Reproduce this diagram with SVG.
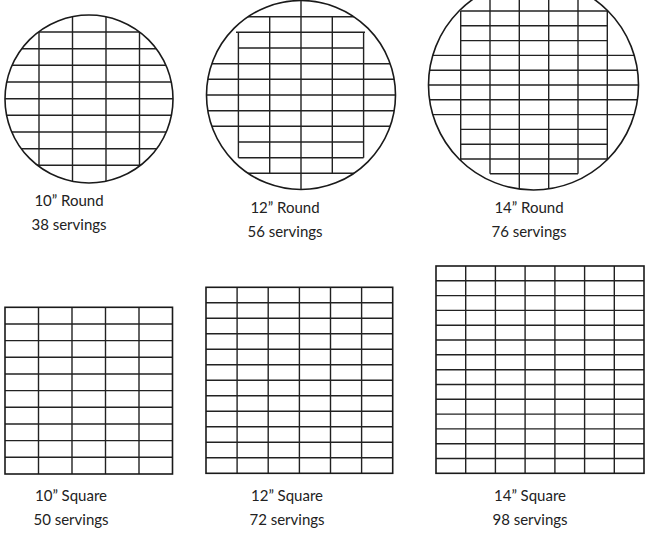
<svg xmlns="http://www.w3.org/2000/svg" width="653" height="540" viewBox="0 0 653 540">
<style>
  .edge{fill:none;stroke:#1a1a1a;stroke-width:1.6}
  .g line{stroke:#222;stroke-width:1.4}
  .lbl{font-family:Lato,"Liberation Sans",sans-serif;font-size:15px;fill:#222;text-anchor:middle}
</style>
<defs>
  <clipPath id="c1"><circle cx="89" cy="99" r="84"/></clipPath>
  <clipPath id="c2"><circle cx="301" cy="95" r="94.5"/></clipPath>
  <clipPath id="c3"><circle cx="533.5" cy="85" r="105"/></clipPath>
</defs>
<rect width="653" height="540" fill="#fff"/>

<g id="round10">
  <g class="g" clip-path="url(#c1)">
    <line x1="39" y1="0" x2="39" y2="200"/>
    <line x1="72.5" y1="0" x2="72.5" y2="200"/>
    <line x1="106" y1="0" x2="106" y2="200"/>
    <line x1="139.5" y1="0" x2="139.5" y2="200"/>
    <line x1="0" y1="32" x2="180" y2="32"/>
    <line x1="0" y1="48.7" x2="180" y2="48.7"/>
    <line x1="0" y1="65.3" x2="180" y2="65.3"/>
    <line x1="0" y1="82" x2="180" y2="82"/>
    <line x1="0" y1="98.7" x2="180" y2="98.7"/>
    <line x1="0" y1="115.3" x2="180" y2="115.3"/>
    <line x1="0" y1="132" x2="180" y2="132"/>
    <line x1="0" y1="148.7" x2="180" y2="148.7"/>
    <line x1="0" y1="165.3" x2="180" y2="165.3"/>
  </g>
  <circle class="edge" cx="89" cy="99" r="84"/>
  <text class="lbl" x="69" y="206">10” Round</text>
  <text class="lbl" x="69" y="230">38 servings</text>
</g>

<g id="round12">
  <g class="g" clip-path="url(#c2)">
    <line x1="238.4" y1="32.3" x2="238.4" y2="157.7"/>
    <line x1="269.7" y1="16.7" x2="269.7" y2="173.3"/>
    <line x1="301" y1="0" x2="301" y2="200"/>
    <line x1="332.3" y1="16.7" x2="332.3" y2="173.3"/>
    <line x1="363.6" y1="32.3" x2="363.6" y2="157.7"/>
    <line x1="200" y1="16.7" x2="400" y2="16.7"/>
    <line x1="236" y1="32.3" x2="365" y2="32.3"/>
    <line x1="238.4" y1="48" x2="363.6" y2="48"/>
    <line x1="200" y1="63.7" x2="400" y2="63.7"/>
    <line x1="200" y1="79.3" x2="400" y2="79.3"/>
    <line x1="200" y1="95" x2="400" y2="95"/>
    <line x1="200" y1="110.7" x2="400" y2="110.7"/>
    <line x1="200" y1="126.3" x2="400" y2="126.3"/>
    <line x1="238.4" y1="142" x2="363.6" y2="142"/>
    <line x1="238.4" y1="157.7" x2="363.6" y2="157.7"/>
    <line x1="200" y1="173.3" x2="400" y2="173.3"/>
  </g>
  <circle class="edge" cx="301" cy="95" r="94.5"/>
  <text class="lbl" x="285" y="213">12” Round</text>
  <text class="lbl" x="285" y="237">56 servings</text>
</g>

<g id="round14">
  <g class="g" clip-path="url(#c3)">
    <line x1="460.7" y1="11" x2="460.7" y2="200"/>
    <line x1="490" y1="-30" x2="490" y2="173.8"/>
    <line x1="519.3" y1="-30" x2="519.3" y2="200"/>
    <line x1="548.7" y1="-30" x2="548.7" y2="200"/>
    <line x1="578" y1="-30" x2="578" y2="173.8"/>
    <line x1="607.3" y1="11" x2="607.3" y2="200"/>
    <line x1="460.7" y1="11" x2="607.3" y2="11"/>
    <line x1="460.7" y1="25.8" x2="607.3" y2="25.8"/>
    <line x1="460.7" y1="40.6" x2="607.3" y2="40.6"/>
    <line x1="420" y1="55.4" x2="650" y2="55.4"/>
    <line x1="420" y1="70.2" x2="650" y2="70.2"/>
    <line x1="420" y1="85" x2="650" y2="85"/>
    <line x1="420" y1="99.8" x2="650" y2="99.8"/>
    <line x1="420" y1="114.6" x2="650" y2="114.6"/>
    <line x1="460.7" y1="129.4" x2="607.3" y2="129.4"/>
    <line x1="460.7" y1="144.2" x2="607.3" y2="144.2"/>
    <line x1="460.7" y1="159" x2="607.3" y2="159"/>
    <line x1="490" y1="173.8" x2="578" y2="173.8"/>
  </g>
  <circle class="edge" cx="533.5" cy="85" r="105"/>
  <text class="lbl" x="529" y="213">14” Round</text>
  <text class="lbl" x="529" y="237">76 servings</text>
</g>

<g id="square10">
  <g class="g">
    <line x1="38.5" y1="307.3" x2="38.5" y2="474"/>
    <line x1="72" y1="307.3" x2="72" y2="474"/>
    <line x1="105.5" y1="307.3" x2="105.5" y2="474"/>
    <line x1="139" y1="307.3" x2="139" y2="474"/>
    <line x1="5" y1="324" x2="172.5" y2="324"/>
    <line x1="5" y1="340.6" x2="172.5" y2="340.6"/>
    <line x1="5" y1="357.3" x2="172.5" y2="357.3"/>
    <line x1="5" y1="374" x2="172.5" y2="374"/>
    <line x1="5" y1="390.6" x2="172.5" y2="390.6"/>
    <line x1="5" y1="407.3" x2="172.5" y2="407.3"/>
    <line x1="5" y1="424" x2="172.5" y2="424"/>
    <line x1="5" y1="440.6" x2="172.5" y2="440.6"/>
    <line x1="5" y1="457.3" x2="172.5" y2="457.3"/>
  </g>
  <rect class="edge" x="5" y="307.3" width="167.5" height="166.7"/>
  <text class="lbl" x="71" y="501">10” Square</text>
  <text class="lbl" x="71" y="525">50 servings</text>
</g>

<g id="square12">
  <g class="g">
    <line x1="237.1" y1="287.3" x2="237.1" y2="473.3"/>
    <line x1="268.2" y1="287.3" x2="268.2" y2="473.3"/>
    <line x1="299.4" y1="287.3" x2="299.4" y2="473.3"/>
    <line x1="330.5" y1="287.3" x2="330.5" y2="473.3"/>
    <line x1="361.6" y1="287.3" x2="361.6" y2="473.3"/>
    <line x1="206" y1="302.8" x2="392.7" y2="302.8"/>
    <line x1="206" y1="318.3" x2="392.7" y2="318.3"/>
    <line x1="206" y1="333.8" x2="392.7" y2="333.8"/>
    <line x1="206" y1="349.3" x2="392.7" y2="349.3"/>
    <line x1="206" y1="364.8" x2="392.7" y2="364.8"/>
    <line x1="206" y1="380.3" x2="392.7" y2="380.3"/>
    <line x1="206" y1="395.8" x2="392.7" y2="395.8"/>
    <line x1="206" y1="411.3" x2="392.7" y2="411.3"/>
    <line x1="206" y1="426.8" x2="392.7" y2="426.8"/>
    <line x1="206" y1="442.3" x2="392.7" y2="442.3"/>
    <line x1="206" y1="457.8" x2="392.7" y2="457.8"/>
  </g>
  <rect class="edge" x="206" y="287.3" width="186.7" height="186"/>
  <text class="lbl" x="287" y="501">12” Square</text>
  <text class="lbl" x="287" y="525">72 servings</text>
</g>

<g id="square14">
  <g class="g">
    <line x1="465.7" y1="266" x2="465.7" y2="473.3"/>
    <line x1="495.4" y1="266" x2="495.4" y2="473.3"/>
    <line x1="525.1" y1="266" x2="525.1" y2="473.3"/>
    <line x1="554.9" y1="266" x2="554.9" y2="473.3"/>
    <line x1="584.6" y1="266" x2="584.6" y2="473.3"/>
    <line x1="614.3" y1="266" x2="614.3" y2="473.3"/>
    <line x1="436" y1="280.8" x2="644" y2="280.8"/>
    <line x1="436" y1="295.6" x2="644" y2="295.6"/>
    <line x1="436" y1="310.4" x2="644" y2="310.4"/>
    <line x1="436" y1="325.2" x2="644" y2="325.2"/>
    <line x1="436" y1="340" x2="644" y2="340"/>
    <line x1="436" y1="354.8" x2="644" y2="354.8"/>
    <line x1="436" y1="369.7" x2="644" y2="369.7"/>
    <line x1="436" y1="384.5" x2="644" y2="384.5"/>
    <line x1="436" y1="399.3" x2="644" y2="399.3"/>
    <line x1="436" y1="414.1" x2="644" y2="414.1"/>
    <line x1="436" y1="428.9" x2="644" y2="428.9"/>
    <line x1="436" y1="443.7" x2="644" y2="443.7"/>
    <line x1="436" y1="458.5" x2="644" y2="458.5"/>
  </g>
  <rect class="edge" x="436" y="266" width="208" height="207.3"/>
  <text class="lbl" x="530" y="501">14” Square</text>
  <text class="lbl" x="530" y="525">98 servings</text>
</g>
</svg>
